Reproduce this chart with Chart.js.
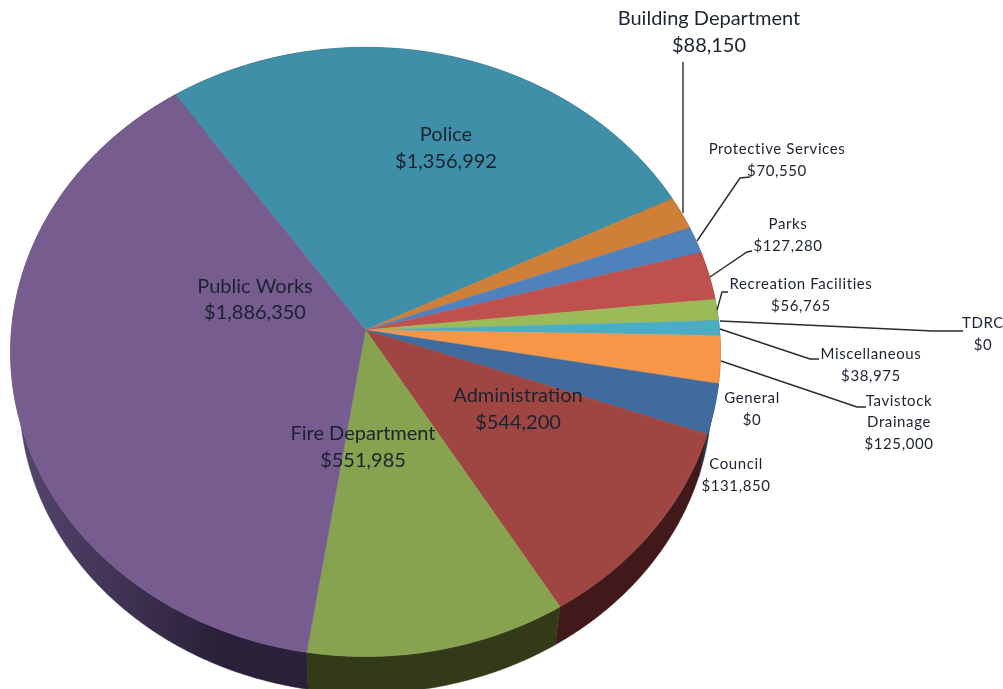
<!DOCTYPE html>
<html><head><meta charset="utf-8">
<style>html,body{margin:0;padding:0;background:#fff}#w{position:relative;width:1003px;height:689px;overflow:hidden}</style>
</head><body><div id="w"><canvas id="c" width="1003" height="689"></canvas></div>
<script src="https://cdn.jsdelivr.net/npm/chart.js@4"></script>
<script>
const categories=['Police','Building Department','Protective Services','Parks','Recreation Facilities','Miscellaneous','TDRC','Tavistock Drainage','General','Council','Administration','Fire Department','Public Works'];
const budget=[1356992,88150,70550,127280,56765,38975,0,125000,0,131850,544200,551985,1886350];
const faceColors=['#3f8fa8','#d07f38','#4f81bd','#c0504d','#9bbb59','#4bacc6','#4bacc6','#f79646','#3f6b9f','#3f6b9f','#a04642','#87a350','#775d8f'];
const wallColors=['#1d4150','#5e3a18','#24395a','#592422','#46562a','#24505c','#24505c','#754620','#1f3550','#1f3550','#41191a','#333a17','#2b2039'];

const P={cx:365.5,cy:330,R:354,S:303,k:0.0721,drop:45,shrink:0.975};
function project(a,low){
  const X=Math.cos(a),Y=Math.sin(a),w=1-P.k*Y,s=low?P.shrink:1;
  return [P.cx+s*P.R*X/w,P.cy+(low?P.drop:0)+s*P.S*Y/w];
}
function arcPts(a0,a1,low){
  const n=Math.max(2,Math.ceil(Math.abs(a1-a0)/0.01)),o=[];
  for(let i=0;i<=n;i++)o.push(project(a0+(a1-a0)*i/n,low));
  return o;
}
function poly(ctx,pts,fill){
  ctx.beginPath();pts.forEach((p,i)=>i?ctx.lineTo(p[0],p[1]):ctx.moveTo(p[0],p[1]));ctx.closePath();
  ctx.fillStyle=fill;ctx.fill();ctx.strokeStyle=fill;ctx.lineWidth=0.5;ctx.stroke();
}
const labelLayout={
 'Police':{x:446,y:135,size:20,gap:27,ls:0},
 'Public Works':{x:255,y:287,size:20,gap:26,ls:0},
 'Fire Department':{x:363,y:434,size:20,gap:27,ls:0},
 'Administration':{x:518,y:396,size:20,gap:27,ls:0},
 'Building Department':{x:709,y:19,size:20,gap:27,ls:0,lead:[[683,62],[683,213]]},
 'Protective Services':{x:777,y:149,size:15,gap:22,ls:0.6,lead:[[697,241],[740,178],[750,177]]},
 'Parks':{x:788,y:224,size:15,gap:22,ls:0.6,lead:[[710,277],[747,252],[752,251]]},
 'Recreation Facilities':{x:801,y:284,size:15,gap:22,ls:0.6,lead:[[717,310],[722,292],[728,292]]},
 'TDRC':{x:983,y:323,size:15,gap:22,ls:0.6,lead:[[720,321],[933,331],[963,331]]},
 'Miscellaneous':{x:871,y:354,size:15,gap:22,ls:0.6,lead:[[720,329],[810,359],[819,359]]},
 'Tavistock Drainage':{x:899,y:401,size:15,gap:21.5,ls:0.6,wrap:['Tavistock','Drainage'],lead:[[721,361],[857,407],[866,407]]},
 'General':{x:752,y:398,size:15,gap:22,ls:0.6},
 'Council':{x:736,y:464,size:15,gap:22,ls:0.6}
};
const money=v=>'$'+v.toLocaleString('en-US');

const pie3d={id:'pie3d',
 beforeDatasetDraw(chart){
  const ctx=chart.ctx,arcs=chart.getDatasetMeta(0).data;
  ctx.save();
  arcs.forEach((el,i)=>{
    if(el.endAngle-el.startAngle<=0)return;
    const top=arcPts(el.startAngle,el.endAngle,false),low=arcPts(el.startAngle,el.endAngle,true).reverse();
    let fill=wallColors[i];
    if(categories[i]==='Public Works'){
      const g=ctx.createLinearGradient(20,0,220,0);
      g.addColorStop(0,'#54456e');g.addColorStop(1,wallColors[i]);fill=g;
    }
    poly(ctx,top.concat(low),fill);
  });
  arcs.forEach((el,i)=>{
    if(el.endAngle-el.startAngle<=0)return;
    poly(ctx,[[P.cx,P.cy]].concat(arcPts(el.startAngle,el.endAngle,false)),faceColors[i]);
  });
  ctx.restore();
  return false;
 },
 afterDatasetsDraw(chart){
  const ctx=chart.ctx;
  ctx.save();
  ctx.textAlign='center';ctx.textBaseline='middle';
  categories.forEach((name,i)=>{
    const L=labelLayout[name];
    if(L.lead){
      ctx.beginPath();L.lead.forEach((p,j)=>j?ctx.lineTo(p[0],p[1]):ctx.moveTo(p[0],p[1]));
      ctx.strokeStyle='#2a2a2a';ctx.lineWidth=1.4;ctx.stroke();
    }
    ctx.font=L.size+'px Lato';ctx.letterSpacing=L.ls+'px';ctx.fillStyle='#1c2230';
    (L.wrap||[name]).concat([money(budget[i])]).forEach((t,j)=>ctx.fillText(t,L.x,L.y+j*L.gap));
  });
  ctx.restore();
 }
};
new Chart(document.getElementById('c'),{type:'pie',
 data:{labels:categories,datasets:[{data:budget,backgroundColor:faceColors,borderWidth:0}]},
 options:{responsive:false,animation:false,rotation:-34.7,
  plugins:{legend:{display:false},tooltip:{enabled:false},title:{display:false}}},
 plugins:[pie3d]});
</script></body></html>
